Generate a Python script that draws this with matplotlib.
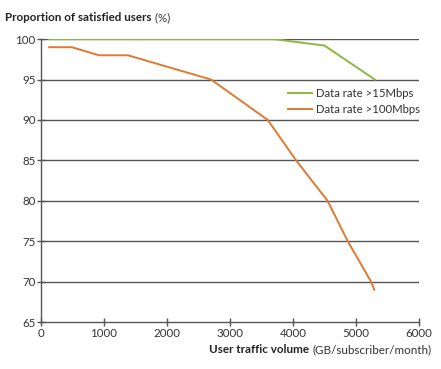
import matplotlib.pyplot as plt

plt.rcParams["font.family"] = ["Lato", "DejaVu Sans"]

# ── Data ─────────────────────────────────────────────────────────────────────
traffic_15 = [130, 3700, 4500, 5300]
satisfied_15 = [100, 100, 99.2, 95]

traffic_100 = [130, 490, 920, 1380, 2700, 3600, 4050, 4550, 4870, 5240, 5290]
satisfied_100 = [99, 99, 98, 98, 95, 90, 85, 80, 75, 70, 69]

x_ticks = [0, 1000, 2000, 3000, 4000, 5000, 6000]
y_ticks = [65, 70, 75, 80, 85, 90, 95, 100]

GREEN = "#8cb840"
ORANGE = "#de7a32"
GRID = "#555555"

# ── Figure ───────────────────────────────────────────────────────────────────
fig = plt.figure(figsize=(4.41, 3.69), dpi=100)
ax = fig.add_axes([0.093, 0.127, 0.857, 0.767])

for y in y_ticks[1:]:
    ax.axhline(y, color=GRID, lw=1.0, zorder=1)

ax.plot(traffic_15, satisfied_15, color=GREEN, lw=1.4, label="Data rate >15Mbps", zorder=3)
ax.plot(traffic_100, satisfied_100, color=ORANGE, lw=1.4, label="Data rate >100Mbps", zorder=3)

ax.set_xlim(0, 6000)
ax.set_ylim(65, 100)
ax.set_xticks(x_ticks)
ax.set_yticks(y_ticks)
ax.tick_params(direction="inout", length=6, width=1, color=GRID, labelsize=8.3,
               labelcolor="#333333", pad=1)

for s in ["top", "right"]:
    ax.spines[s].set_visible(False)
for s in ["left", "bottom"]:
    ax.spines[s].set_color(GRID)
    ax.spines[s].set_linewidth(1.0)

leg = ax.legend(loc="upper left", bbox_to_anchor=(0.653, 0.826), frameon=False,
                fontsize=8.2, handlelength=2.1, handletextpad=0.35, labelspacing=0.45,
                borderpad=0, borderaxespad=0)
for t in leg.get_texts():
    t.set_color("#333333")

# title: bold + regular
t1 = fig.text(0.012, 0.943, "Proportion of satisfied users", fontsize=8.4,
              fontweight="bold", color="#222222", va="baseline")
ax.annotate(" (%)", xy=(1, 0), xycoords=t1, va="bottom", fontsize=8.4, color="#333333")

# x label: bold + regular, right aligned
t2 = fig.text(0.978, 0.043, "(GB/subscriber/month)", fontsize=8.4, color="#333333",
              ha="right", va="baseline")
ax.annotate("User traffic volume ", xy=(0, 0), xycoords=t2, ha="right", va="bottom",
            fontsize=8.4, fontweight="bold", color="#222222")

fig.savefig("out.png", dpi=100)
